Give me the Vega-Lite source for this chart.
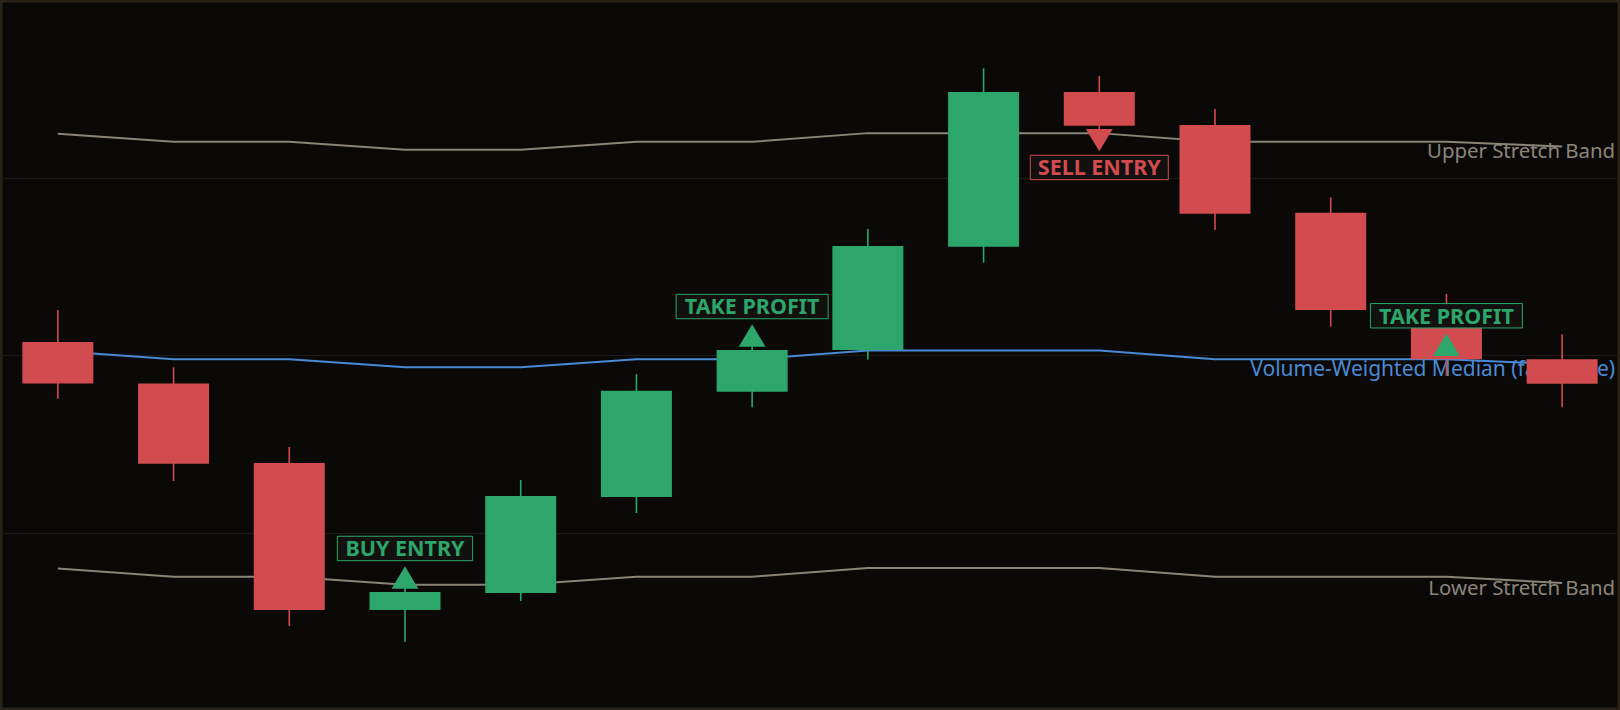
{
  "$schema": "https://vega.github.io/schema/vega-lite/v6.json",
  "width": 1620,
  "height": 710,
  "autosize": "none",
  "padding": 0,
  "background": "#0a0908",
  "config": {
    "view": {"fill": "#0a0908", "stroke": "#2a2418", "strokeWidth": 5},
    "axis": {"labels": false, "ticks": false, "domain": false, "title": null, "grid": true, "gridColor": "#1d1b18", "gridWidth": 1}
  },
  "datasets": {
    "candles": [
      {"idx": 0, "open": 100.73, "high": 102.53, "low": 97.53, "close": 98.40, "upper": 112.47, "median": 100.22, "lower": 87.97},
      {"idx": 1, "open": 98.40, "high": 99.31, "low": 92.90, "close": 93.88, "upper": 112.01, "median": 99.76, "lower": 87.51},
      {"idx": 2, "open": 93.92, "high": 94.82, "low": 84.73, "close": 85.63, "upper": 112.01, "median": 99.76, "lower": 87.51},
      {"idx": 3, "open": 85.63, "high": 86.95, "low": 83.83, "close": 86.65, "upper": 111.56, "median": 99.31, "lower": 87.06},
      {"idx": 4, "open": 86.59, "high": 92.96, "low": 86.14, "close": 92.06, "upper": 111.56, "median": 99.31, "lower": 87.06},
      {"idx": 5, "open": 92.00, "high": 98.92, "low": 91.10, "close": 97.99, "upper": 112.01, "median": 99.76, "lower": 87.51},
      {"idx": 6, "open": 97.93, "high": 100.60, "low": 97.06, "close": 100.28, "upper": 112.01, "median": 99.76, "lower": 87.51},
      {"idx": 7, "open": 100.28, "high": 107.10, "low": 99.74, "close": 106.14, "upper": 112.50, "median": 100.25, "lower": 88.00},
      {"idx": 8, "open": 106.10, "high": 116.15, "low": 105.20, "close": 114.82, "upper": 112.50, "median": 100.25, "lower": 88.00},
      {"idx": 9, "open": 114.82, "high": 115.72, "low": 112.60, "close": 112.92, "upper": 112.50, "median": 100.25, "lower": 88.00},
      {"idx": 10, "open": 112.96, "high": 113.86, "low": 107.04, "close": 107.96, "upper": 112.01, "median": 99.76, "lower": 87.51},
      {"idx": 11, "open": 108.01, "high": 108.88, "low": 101.60, "close": 102.54, "upper": 112.01, "median": 99.76, "lower": 87.51},
      {"idx": 12, "open": 101.52, "high": 103.44, "low": 98.82, "close": 99.76, "upper": 112.01, "median": 99.76, "lower": 87.51},
      {"idx": 13, "open": 99.76, "high": 101.17, "low": 97.05, "close": 98.38, "upper": 111.75, "median": 99.48, "lower": 87.15}
    ],
    "signals": [
      {"idx": 3, "price": 86.65, "label": "BUY ENTRY", "side": "up"},
      {"idx": 6, "price": 100.28, "label": "TAKE PROFIT", "side": "up"},
      {"idx": 9, "price": 112.92, "label": "SELL ENTRY", "side": "down"},
      {"idx": 12, "price": 99.76, "label": "TAKE PROFIT", "side": "up"}
    ]
  },
  "encoding": {
    "x": {"field": "idx", "type": "quantitative", "scale": {"domain": [-0.5, 13.5], "nice": false, "zero": false, "padding": 0}, "axis": null}
  },
  "layer": [
    {
      "data": {"name": "candles"},
      "mark": {"type": "line", "color": "#8b8579", "strokeWidth": 2},
      "encoding": {
        "y": {"field": "upper", "type": "quantitative", "scale": {"domain": [80, 120], "nice": false, "zero": false}, "axis": {"values": [90, 100, 110]}}
      }
    },
    {
      "data": {"name": "candles"},
      "mark": {"type": "line", "color": "#8b8579", "strokeWidth": 2},
      "encoding": {
        "y": {"field": "lower", "type": "quantitative", "scale": {"domain": [80, 120], "nice": false, "zero": false}}
      }
    },
    {
      "data": {"name": "candles"},
      "mark": {"type": "line", "color": "#4a8ad4", "strokeWidth": 2},
      "encoding": {
        "y": {"field": "median", "type": "quantitative", "scale": {"domain": [80, 120], "nice": false, "zero": false}}
      }
    },
    {
      "data": {"name": "candles"},
      "transform": [{"filter": "datum.idx == 13"}],
      "mark": {"type": "text", "align": "right", "baseline": "alphabetic", "dx": 53, "dy": 11.5, "font": "Noto Sans", "fontSize": 20.4, "color": "#8b8579"},
      "encoding": {
        "y": {"field": "upper", "type": "quantitative", "scale": {"domain": [80, 120], "nice": false, "zero": false}},
        "text": {"value": "Upper Stretch Band"}
      }
    },
    {
      "data": {"name": "candles"},
      "transform": [{"filter": "datum.idx == 13"}],
      "mark": {"type": "text", "align": "right", "baseline": "alphabetic", "dx": 53, "dy": 12, "font": "Noto Sans", "fontSize": 21, "color": "#4a8ad4"},
      "encoding": {
        "y": {"field": "median", "type": "quantitative", "scale": {"domain": [80, 120], "nice": false, "zero": false}},
        "text": {"value": "Volume-Weighted Median (fair value)"}
      }
    },
    {
      "data": {"name": "candles"},
      "transform": [{"filter": "datum.idx == 13"}],
      "mark": {"type": "text", "align": "right", "baseline": "alphabetic", "dx": 53, "dy": 11.5, "font": "Noto Sans", "fontSize": 20.4, "color": "#8b8579"},
      "encoding": {
        "y": {"field": "lower", "type": "quantitative", "scale": {"domain": [80, 120], "nice": false, "zero": false}},
        "text": {"value": "Lower Stretch Band"}
      }
    },
    {
      "data": {"name": "candles"},
      "mark": {"type": "rule", "strokeWidth": 1.6},
      "encoding": {
        "y": {"field": "low", "type": "quantitative", "scale": {"domain": [80, 120], "nice": false, "zero": false}},
        "y2": {"field": "high"},
        "color": {"condition": {"test": "datum.close >= datum.open", "value": "#2ca66a"}, "value": "#d24b4e"}
      }
    },
    {
      "data": {"name": "candles"},
      "mark": {"type": "bar", "width": 71},
      "encoding": {
        "y": {"field": "open", "type": "quantitative", "scale": {"domain": [80, 120], "nice": false, "zero": false}},
        "y2": {"field": "close"},
        "color": {"condition": {"test": "datum.close >= datum.open", "value": "#2ca66a"}, "value": "#d24b4e"}
      }
    },
    {
      "data": {"name": "signals"},
      "transform": [{"filter": "datum.side == 'up'"}],
      "mark": {"type": "point", "filled": true, "size": 23104, "fill": "#13110f", "stroke": "#2ca66a", "strokeWidth": 1, "opacity": 1, "yOffset": -43.5},
      "encoding": {
        "y": {"field": "price", "type": "quantitative", "scale": {"domain": [80, 120], "nice": false, "zero": false}},
        "shape": {"field": "label", "type": "nominal", "legend": null, "scale": {"domain": ["BUY ENTRY", "TAKE PROFIT", "SELL ENTRY"], "range": ["M-0.89,-0.1605H0.89V0.1605H-0.89Z", "M-1,-0.1605H1V0.1605H-1Z", "M-0.908,-0.1605H0.908V0.1605H-0.908Z"]}}
      }
    },
    {
      "data": {"name": "signals"},
      "transform": [{"filter": "datum.side == 'down'"}],
      "mark": {"type": "point", "filled": true, "size": 23104, "fill": "#13110f", "stroke": "#d24b4e", "strokeWidth": 1, "opacity": 1, "yOffset": 41.8},
      "encoding": {
        "y": {"field": "price", "type": "quantitative", "scale": {"domain": [80, 120], "nice": false, "zero": false}},
        "shape": {"field": "label", "type": "nominal", "legend": null, "scale": {"domain": ["BUY ENTRY", "TAKE PROFIT", "SELL ENTRY"], "range": ["M-0.89,-0.1605H0.89V0.1605H-0.89Z", "M-1,-0.1605H1V0.1605H-1Z", "M-0.908,-0.1605H0.908V0.1605H-0.908Z"]}}
      }
    },
    {
      "data": {"name": "signals"},
      "transform": [{"filter": "datum.side == 'up'"}],
      "mark": {"type": "text", "align": "center", "baseline": "alphabetic", "dy": -35.6, "font": "Noto Sans", "fontSize": 21.5, "fontWeight": "bold", "color": "#2ca66a"},
      "encoding": {
        "y": {"field": "price", "type": "quantitative", "scale": {"domain": [80, 120], "nice": false, "zero": false}},
        "text": {"field": "label"}
      }
    },
    {
      "data": {"name": "signals"},
      "transform": [{"filter": "datum.side == 'down'"}],
      "mark": {"type": "text", "align": "center", "baseline": "alphabetic", "dy": 49.7, "font": "Noto Sans", "fontSize": 21.5, "fontWeight": "bold", "color": "#d24b4e"},
      "encoding": {
        "y": {"field": "price", "type": "quantitative", "scale": {"domain": [80, 120], "nice": false, "zero": false}},
        "text": {"field": "label"}
      }
    },
    {
      "data": {"name": "signals"},
      "transform": [{"filter": "datum.side == 'up'"}],
      "mark": {"type": "point", "filled": true, "size": 718, "shape": "M0,-0.836L1,0.836L-1,0.836Z", "color": "#2ca66a", "opacity": 1, "yOffset": -14.5},
      "encoding": {
        "y": {"field": "price", "type": "quantitative", "scale": {"domain": [80, 120], "nice": false, "zero": false}}
      }
    },
    {
      "data": {"name": "signals"},
      "transform": [{"filter": "datum.side == 'down'"}],
      "mark": {"type": "point", "filled": true, "size": 718, "shape": "M0,0.836L1,-0.836L-1,-0.836Z", "color": "#d24b4e", "opacity": 1, "yOffset": 14.5},
      "encoding": {
        "y": {"field": "price", "type": "quantitative", "scale": {"domain": [80, 120], "nice": false, "zero": false}}
      }
    }
  ]
}
